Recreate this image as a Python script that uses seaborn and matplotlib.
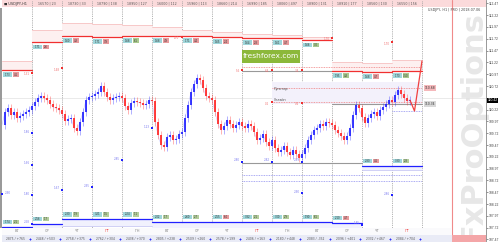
import numpy as np
import matplotlib
matplotlib.use("Agg")
import matplotlib.pyplot as plt
from matplotlib.patches import Rectangle
import seaborn as sns

# ---------------- data ----------------
symbol = "USDJPY,H1"
info_text = "USDJPY, H1 | PRO | 2018.07.06"
watermark = "FxProOptions"
brand = "freshforex.com"

close = [109.89, 110.17, 110.25, 110.11, 110.17, 110.04, 110.08, 110.13, 110.17, 110.21,
         110.30, 110.38, 110.47, 110.51, 110.47, 110.42, 110.34, 110.27, 110.25, 110.21,
         110.13, 109.98, 110.02, 110.04, 109.83, 109.77, 109.96, 110.17, 110.42, 110.49,
         110.51, 110.55, 110.59, 110.72, 110.59, 110.49, 110.42, 110.47, 110.49, 110.51,
         110.47, 110.30, 110.21, 110.36, 110.40, 110.38, 110.36, 110.32, 110.34, 110.42,
         110.40, 109.96, 109.68, 109.47, 109.43, 109.64, 109.68, 109.58, 109.60, 109.70,
         109.75, 110.04, 110.32, 110.59, 110.76, 110.89, 110.85, 110.68, 110.51, 110.47,
         110.42, 110.17, 109.91, 109.79, 109.87, 110.00, 109.91, 109.83, 109.89, 109.96,
         109.87, 109.83, 109.91, 109.87, 109.75, 109.58, 109.62, 109.70, 109.53, 109.45,
         109.58, 109.41, 109.32, 109.36, 109.45, 109.32, 109.26, 109.36, 109.28, 109.19,
         109.28, 109.41, 109.58, 109.68, 109.79, 109.83, 109.91, 109.87, 109.96, 109.94,
         109.89, 109.79, 109.72, 109.66, 109.58, 109.66, 109.83, 110.11, 110.32, 110.25,
         110.06, 109.94, 110.04, 110.13, 110.17, 110.08, 110.21, 110.27, 110.34, 110.42,
         110.38, 110.53, 110.64, 110.55, 110.47, 110.40, 110.42]
bar_step_days = 0.1

forecast_day = [13.6, 13.75, 14.0]
forecast_price = [110.42, 110.19, 111.25]

days = list(range(14))
weekdays = ["ВТ", "СР", "ЧТ", "ПТ", "ПН", "ВТ", "СР", "ЧТ", "ПТ", "ПН", "ВТ", "СР", "ЧТ", "ПТ"]
header_labels = ["16570 | 23", "18730 | 33", "18790 | 138", "18950 | 127",
                 "16000 | 112", "15960 | 113", "18660 | 214", "16990 | 185", "18060 | 497",
                 "18900 | 131", "18910 | 177", "18560 | 130", "16550 | 156"]
footer_labels = ["2875 / +765", "2448 / +503", "2758 / +375", "2762 / +304", "2438 / +370",
                 "2805 / +238", "2509 / +260", "2578 / +199", "2406 / +163", "2180 / +448",
                 "2083 / -332", "2096 / +401", "2332 / +467", "2084 / +704"]

res_top = [111.25, 111.91, 112.05, 112.03, 112.01, 111.97, 111.91, 111.86, 111.82, 111.80,
           111.76, 111.23, 111.21, 111.27]
res_line = [111.06, 111.65, 111.78, 111.76, 111.78, 111.78, 111.78, 111.76, 111.74, 111.74,
            111.69, 111.04, 111.02, 111.04]
res_tag = ["1.73", "1.71", "1.60", "1.71", "1.68", "1.68", "1.71", "1.65", "1.64", "1.61",
           "1.66", "1.95", "1.68", "1.70"]
res_tag2 = ["4.1", "2.6", "4.3", "3.9", "6.1", "4.9", "4.4", "2.4", "2.8", "4.7", "3.0", "4.8", "4.7", "7.50"]
res_tag2_green = [False, False, False, False, True, False, False, False, False, False, True, True, False, True]

sup_line = [107.74, 107.80, 107.90, 107.90, 107.90, 107.84, 107.84, 107.84, 107.84, 107.84,
            107.84, 107.82, 109.03, 109.03]
sup_band = [107.64, 107.66, 107.75, 107.75, 107.75, 107.72, 107.72, 107.72, 107.72, 107.72,
            107.72, 107.70, 108.95, 108.95]
sup_tag = ["1.74", "2.56", "2.30", "3.21", "2.24", "2.02", "2.60", "2.55", "3.82", "3.00",
           "1.90", "2.10", "2.80", "3.30"]
sup_tag2 = ["2.1", "1.7", "1.9", "1.5", "1.1", "1.7", "2.7", "6.4", "2.1", "2.9", "6.1", "4.7", "4.1", "2.8"]
sup_tag2_pink = [False, False, False, False, False, False, False, True, False, False, False, True, True, False]

red_mark_day = [1, 2, 6, 8, 9, 10, 11, 13, 9, 10]
red_mark_price = [111.00, 111.10, 111.76, 111.06, 111.06, 111.06, 111.74, 111.65, 110.38, 110.36]
red_mark_text = ["1.31", "1.48", "-4.0", "5.6", "6.4", "3.4", "1.70", "1.70", "0.2", "0.4"]

blue_mark_day = [0, 1, 1, 1, 2, 4, 5, 8, 9, 10, 10, 12, 13, 1, 3]
blue_mark_price = [108.43, 109.05, 108.41, 107.80, 108.52, 109.15, 109.83, 109.11, 109.11,
                   109.11, 108.45, 107.78, 108.41, 109.72, 108.58]
blue_mark_text = ["2.90", "1.66", "1.80", "2.58", "1.67", "2.85", "1.23", "2.80", "2.82",
                  "2.89", "2.90", "1.85", "2.86", "1.86", "2.95"]

price_ticks = [112.47 - 0.25 * k for k in range(21)]
last_price = 110.42

# ---------------- layout ----------------
W, H = 500, 242
plot_right_px = 486
px_per_day = 30.0
y_top, y_bot = 112.542, 107.415
x_left = -2 / px_per_day
x_right = (plot_right_px - 2) / px_per_day

sns.set_style("white")
plt.rcParams["font.family"] = ["DejaVu Sans"]
fig = plt.figure(figsize=(W / 100, H / 100), dpi=100)
ax = fig.add_axes([0, 0, plot_right_px / W, 1])
ax.set_xlim(x_left, x_right)
ax.set_ylim(y_bot, y_top)

RED = "#f03030"
BLUE = "#2020ff"
pxp = (y_top - y_bot) / H  # price per pixel

# watermark
ax.text(15.68, 109.85, watermark, rotation=90, fontsize=22, fontweight="bold",
        color="#e7e7e7", ha="center", va="center", zorder=0)

# header / footer bands
ax.add_patch(Rectangle((0, y_top - 7 * pxp), x_right, 7 * pxp, color="#fbdadb", zorder=1, lw=0))
ax.add_patch(Rectangle((0, y_bot), 15.0, 7 * pxp, color="#e9ebf6", zorder=6, lw=0))
ax.add_patch(Rectangle((0, y_bot + 7 * pxp), 15.0, 7 * pxp, color="#fafafc", zorder=6, lw=0))
ax.add_patch(Rectangle((15.0, y_bot), x_right - 15.0, 7 * pxp, color="#f4a6a8", zorder=6, lw=0))
ax.add_patch(Rectangle((x_left, y_bot + 14 * pxp), -x_left, (H - 22) * pxp, color="#9a9a9a", zorder=7, lw=0))

for d, hl in zip(days[1:], header_labels):
    ax.text(d + 0.5, y_top - 3.5 * pxp, hl, fontsize=2.3, color="#555", ha="center", va="center", zorder=8)
for d, wd, fl in zip(days, weekdays, footer_labels):
    ax.text(d + 0.5, y_bot + 10.5 * pxp, wd, fontsize=2.6, color=("#f04848" if wd == "ПТ" else "#888"),
            ha="center", va="center", zorder=8)
    ax.text(d + 0.45, y_bot + 3.5 * pxp, fl, fontsize=2.2, color="#555", ha="center", va="center", zorder=8)
    ax.plot(d + 0.93, y_bot + 3 * pxp, marker="P", ms=1.6, color=BLUE, zorder=8, mew=0)

ax.text(0.05, y_top - 3.5 * pxp, "■ " + symbol, fontsize=2.5, color="#333", ha="left", va="center", zorder=8)
ax.text(14.2, y_top - 10.5 * pxp, info_text, fontsize=2.4, color="#444", ha="left", va="center", zorder=8)

# vertical separators
for d in range(1, 15):
    ax.axvline(d, color="#9a9a9a", lw=0.6, ls=(0, (1, 1.2)), zorder=2)
ax.axvline(15.0, color="#f08a8a", lw=0.8, zorder=2)

# current price guide
ax.axhline(last_price + 0.05, color="#e2e2e2", lw=0.5, zorder=1)

# resistance bands (pink) and support bands (blue)
for d, t, r, tag, tag2, g in zip(days, res_top, res_line, res_tag, res_tag2, res_tag2_green):
    ax.fill_between([d, d + 1], r, t, color="#fdf0f0", lw=0, zorder=2)
    ax.plot([d, d + 1], [t, t], color="#f7c2c2", lw=0.6, zorder=3)
    ax.plot([d, d + 1], [r, r], color=RED, lw=0.9, zorder=4)
    ax.add_patch(Rectangle((d + 0.04, r - 7 * pxp), 0.3, 4.5 * pxp, color="#9ed6da", lw=0, zorder=5))
    ax.add_patch(Rectangle((d + 0.36, r - 7 * pxp), 0.2, 4.5 * pxp,
                           color=("#a9c98e" if g else "#e79a9c"), lw=0, zorder=5))
    ax.text(d + 0.19, r - 4.8 * pxp, tag, fontsize=1.8, color="#333", ha="center", va="center", zorder=6)
    ax.text(d + 0.46, r - 4.8 * pxp, tag2, fontsize=1.8, color="#333", ha="center", va="center", zorder=6)

for d, s, b, tag, tag2, p in zip(days, sup_line, sup_band, sup_tag, sup_tag2, sup_tag2_pink):
    ax.fill_between([d, d + 1], b, s, color="#f1f1fd", lw=0, zorder=2)
    ax.plot([d, d + 1], [b, b], color="#c9c9f4", lw=0.6, zorder=3)
    ax.plot([d, d + 1], [s, s], color=BLUE, lw=0.9, zorder=4)
    ax.add_patch(Rectangle((d + 0.04, s + 2.5 * pxp), 0.3, 4.5 * pxp, color="#9ed6da", lw=0, zorder=5))
    ax.add_patch(Rectangle((d + 0.36, s + 2.5 * pxp), 0.2, 4.5 * pxp,
                           color=("#e79a9c" if p else "#b3cd9b"), lw=0, zorder=5))
    ax.text(d + 0.19, s + 4.8 * pxp, tag, fontsize=1.8, color="#333", ha="center", va="center", zorder=6)
    ax.text(d + 0.46, s + 4.8 * pxp, tag2, fontsize=1.8, color="#333", ha="center", va="center", zorder=6)

# extra levels in the right part
ax.fill_between([9, 14], 110.34, 110.80, color="#f3f1fb", lw=0, zorder=2)
ax.plot([8, 14], [111.12, 111.12], color="#f08080", lw=0.6, ls=(0, (1, 1)), zorder=3)
ax.plot([8, 11], [111.04, 111.04], color="#999", lw=0.8, zorder=3)
ax.plot([9, 14], [110.68, 110.68], color="#f08080", lw=0.6, ls=(0, (1, 1)), zorder=3)
ax.plot([9, 14], [110.38, 110.38], color="#f08080", lw=0.6, ls=(0, (1, 1)), zorder=3)
ax.plot([11, 14], [110.34, 110.34], color="#999", lw=0.8, zorder=3)
ax.plot([13, 14], [110.19, 110.19], color="#8f8ff0", lw=0.6, ls=(0, (1, 1)), zorder=3)
ax.plot([8, 12], [109.09, 109.09], color="#999", lw=0.8, zorder=3)
ax.plot([8, 14], [108.83, 108.83], color="#8f8ff0", lw=0.6, ls=(0, (1, 1)), zorder=3)
ax.plot([8, 14], [108.71, 108.71], color="#8f8ff0", lw=0.6, ls=(0, (1, 1)), zorder=3)
ax.text(14.1, 110.68, "110.68", fontsize=2.2, color="#333", va="center", zorder=6,
        bbox=dict(boxstyle="square,pad=0.25", fc="#f5b8bb", ec="none"))
ax.text(14.1, 110.34, "110.34", fontsize=2.2, color="#333", va="center", zorder=6,
        bbox=dict(boxstyle="square,pad=0.25", fc="#d8d8d8", ec="none"))
ax.text(9.05, 110.66, "Пунктир", fontsize=2.3, color="#555", va="center", zorder=6)
ax.text(9.05, 110.42, "Сплайн", fontsize=2.3, color="#555", va="center", zorder=6)

# brand box
ax.add_patch(Rectangle((8.0, 111.21), 1.93, 0.27, color="#8cb83a", lw=0, zorder=6))
ax.text(8.965, 111.345, brand, fontsize=5.4, color="white", ha="center", va="center", zorder=7)

# markers
sns.scatterplot(x=red_mark_day, y=red_mark_price, color=RED, marker="s", s=2.5, linewidth=0, ax=ax, zorder=8)
for d, p, t in zip(red_mark_day, red_mark_price, red_mark_text):
    ax.text(d - 0.08, p - 1.5 * pxp, t, fontsize=2.0, color="#f07070", ha="right", va="center", zorder=8)
sns.scatterplot(x=blue_mark_day, y=blue_mark_price, color=BLUE, marker="s", s=2.5, linewidth=0, ax=ax, zorder=8)
for d, p, t in zip(blue_mark_day, blue_mark_price, blue_mark_text):
    if d == 0:
        ax.text(d + 0.1, p + 1.5 * pxp, t, fontsize=2.0, color="#7a7af0", ha="left", va="center", zorder=8)
    else:
        ax.text(d - 0.08, p + 1.5 * pxp, t, fontsize=2.0, color="#7a7af0", ha="right", va="center", zorder=8)

# price candles
x = np.arange(len(close)) * bar_step_days
c = np.array(close)
sns.lineplot(x=x, y=c, color="#9a9aff", lw=0.4, alpha=0.5, ax=ax, zorder=9)
for i in range(1, len(c)):
    o, cl = c[i - 1], c[i]
    col = BLUE if cl >= o else "#ff2626"
    lo, hi = min(o, cl), max(o, cl)
    if hi - lo < 0.02:
        hi = lo + 0.02
    ax.vlines(x[i], lo - 0.08, hi + 0.08, color=col, lw=0.6, alpha=0.4, zorder=9)
    ax.vlines(x[i], lo, hi, color=col, lw=1.25, zorder=10)

# forecast path
sns.lineplot(x=forecast_day, y=forecast_price, color="#f04040", lw=0.9, ax=ax, zorder=10)

# right axis
ax.yaxis.tick_right()
ax.set_yticks(price_ticks)
ax.set_yticklabels([f"{v:.2f}" if abs(v - last_price) > 0.07 else "" for v in price_ticks],
                   fontsize=2.4, color="#444", family="Liberation Sans")
ax.tick_params(axis="y", length=1.2, width=0.4, pad=0.5, colors="#444")
ax.set_xticks([])
for s in ["top", "left", "bottom"]:
    ax.spines[s].set_visible(False)
ax.spines["right"].set_color("#888")
ax.spines["right"].set_linewidth(0.6)
ax.annotate(f"{last_price:.2f}", xy=(1.0, last_price), xycoords=("axes fraction", "data"),
            xytext=(0.9, 0), textcoords="offset points", fontsize=2.4, color="white",
            family="Liberation Sans", ha="left", va="center", annotation_clip=False, zorder=12,
            bbox=dict(boxstyle="square,pad=0.15", fc="black", ec="none"))
ax.set_xlabel("")
ax.set_ylabel("")

fig.savefig("out.png", dpi=100)
